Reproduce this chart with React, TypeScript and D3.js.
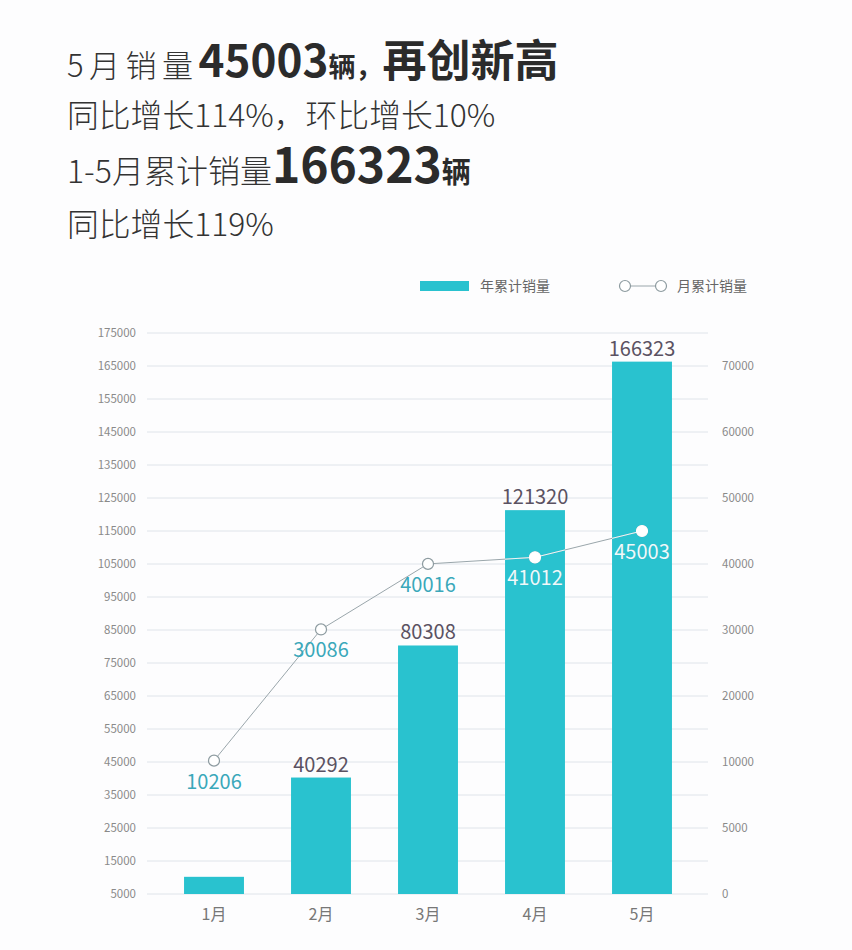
import { useEffect, useRef } from 'react';
import { scaleBand, scaleLinear, select, line } from 'd3';

const months = ['1月', '2月', '3月', '4月', '5月'];
const yearTotals = [10206, 40292, 80308, 121320, 166323];
const monthSales = [10206, 30086, 40016, 41012, 45003];
const leftTicks = [5000, 15000, 25000, 35000, 45000, 55000, 65000, 75000, 85000, 95000, 105000, 115000, 125000, 135000, 145000, 155000, 165000, 175000];
const rightTicks = [0, 5000, 10000, 20000, 30000, 40000, 50000, 60000, 70000];
const legendNames = ['年累计销量', '月累计销量'];

const FONT = '"Noto Sans CJK SC", "Noto Sans", sans-serif';
const BAR = '#29c2cf';
const TEAL = '#3aa8ba';

export default function App() {
  const svgRef = useRef<SVGSVGElement>(null);

  useEffect(() => {
    const width = 852;
    const height = 950;
    const svg = select(svgRef.current);
    svg.selectAll('*').remove();
    svg.attr('width', width).attr('height', height).style('font-family', FONT);

    svg.append('rect').attr('width', width).attr('height', height).attr('fill', '#fdfdfe');

    // 标题
    const h = svg.append('g').attr('fill', '#333');
    const t1 = h.append('text').attr('x', 67).attr('y', 77);
    t1.append('tspan').attr('font-size', 31).attr('font-weight', 300).attr('letter-spacing', 5.5).text('5月销量');
    t1.append('tspan').attr('font-size', 44).attr('font-weight', 700).attr('fill', '#2b2b2b').text('45003');
    t1.append('tspan').attr('font-size', 27).attr('font-weight', 700).attr('fill', '#2b2b2b').text('辆，');
    t1.append('tspan').attr('font-size', 44).attr('font-weight', 700).attr('fill', '#2b2b2b').text('再创新高');
    h.append('text').attr('x', 67).attr('y', 127).attr('font-size', 31.8).attr('font-weight', 300)
      .text('同比增长114%，环比增长10%');
    const t3 = h.append('text').attr('x', 67).attr('y', 183);
    t3.append('tspan').attr('font-size', 32).attr('font-weight', 300).text('1-5月累计销量');
    t3.append('tspan').attr('font-size', 48).attr('font-weight', 700).attr('fill', '#2b2b2b').text('166323');
    t3.append('tspan').attr('font-size', 29).attr('font-weight', 700).attr('fill', '#2b2b2b').text('辆');
    h.append('text').attr('x', 67).attr('y', 236).attr('font-size', 31.8).attr('font-weight', 300)
      .text('同比增长119%');

    // 图例
    const lg = svg.append('g').attr('font-size', 14).attr('fill', '#666');
    lg.append('rect').attr('x', 420).attr('y', 281).attr('width', 49).attr('height', 10).attr('fill', BAR);
    lg.append('text').attr('x', 480).attr('y', 291).text(legendNames[0]);
    lg.append('line').attr('x1', 625).attr('x2', 661).attr('y1', 286).attr('y2', 286).attr('stroke', '#9aa6ab');
    [625, 661].forEach((cx) =>
      lg.append('circle').attr('cx', cx).attr('cy', 286).attr('r', 5.5).attr('fill', '#fff').attr('stroke', '#8d9ba0').attr('stroke-width', 1.2)
    );
    lg.append('text').attr('x', 677).attr('y', 291).text(legendNames[1]);

    // 比例尺
    const x = scaleBand().domain(months).range([160.5, 695.5]).paddingInner(0.44).paddingOuter(0.22);
    const yL = scaleLinear().domain([5000, 175000]).range([894, 333]);
    const yR = scaleLinear()
      .domain([0, 5000, 10000, 70000])
      .range([yL(5000), yL(25000), yL(45000), yL(165000)]);

    // 网格 + 左轴
    const grid = svg.append('g');
    leftTicks.forEach((t) => {
      grid.append('line').attr('x1', 147).attr('x2', 708).attr('y1', yL(t)).attr('y2', yL(t))
        .attr('stroke', '#dfe4ea').attr('stroke-width', 1);
      grid.append('text').attr('x', 136).attr('y', yL(t) + 4).attr('text-anchor', 'end')
        .attr('font-size', 11.5).attr('fill', '#8a8a8a').text(t);
    });
    // 右轴
    rightTicks.forEach((t) => {
      grid.append('text').attr('x', 722).attr('y', yR(t) + 4)
        .attr('font-size', 11.5).attr('fill', '#8a8a8a').text(t);
    });

    const cx = (i: number) => x(months[i])! + x.bandwidth() / 2;

    // 柱
    const bars = svg.append('g');
    yearTotals.forEach((v, i) => {
      bars.append('rect').attr('x', x(months[i])!).attr('y', yL(v)).attr('width', x.bandwidth())
        .attr('height', yL(5000) - yL(v)).attr('fill', BAR);
    });
    const clip = svg.append('clipPath').attr('id', 'barclip');
    yearTotals.forEach((v, i) => {
      clip.append('rect').attr('x', x(months[i])!).attr('y', yL(v)).attr('width', x.bandwidth())
        .attr('height', yL(5000) - yL(v));
    });

    // 柱顶数值
    yearTotals.forEach((v, i) => {
      if (v === monthSales[i]) return;
      svg.append('text').attr('x', cx(i)).attr('y', yL(v) - 6).attr('text-anchor', 'middle')
        .attr('font-size', 20).attr('fill', '#5b5262').text(v);
    });

    // 折线
    const pts = monthSales.map((v, i) => [cx(i), yR(v)] as [number, number]);
    const path = line()(pts)!;
    const drawLine = (g: any, stroke: string, fill: string, mstroke: string, label: string) => {
      g.append('path').attr('d', path).attr('fill', 'none').attr('stroke', stroke).attr('stroke-width', 1);
      pts.forEach(([px, py], i) => {
        g.append('circle').attr('cx', px).attr('cy', py).attr('r', 5.5).attr('fill', fill)
          .attr('stroke', mstroke).attr('stroke-width', 1.2);
        g.append('text').attr('x', px).attr('y', py + 28).attr('text-anchor', 'middle')
          .attr('font-size', 20).attr('fill', label).text(monthSales[i]);
      });
    };
    drawLine(svg.append('g'), '#9aa6ab', '#fff', '#8d9ba0', TEAL);
    drawLine(svg.append('g').attr('clip-path', 'url(#barclip)'), '#e8f8fa', '#fff', '#fff', '#eefafb');

    // 类别
    months.forEach((m, i) => {
      svg.append('text').attr('x', cx(i)).attr('y', 920).attr('text-anchor', 'middle')
        .attr('font-size', 16).attr('fill', '#777').text(m);
    });
  }, []);

  return (
    <div style={{ position: 'absolute', left: 0, top: 0 }}>
      <svg ref={svgRef} style={{ display: 'block' }}></svg>
    </div>
  );
}
